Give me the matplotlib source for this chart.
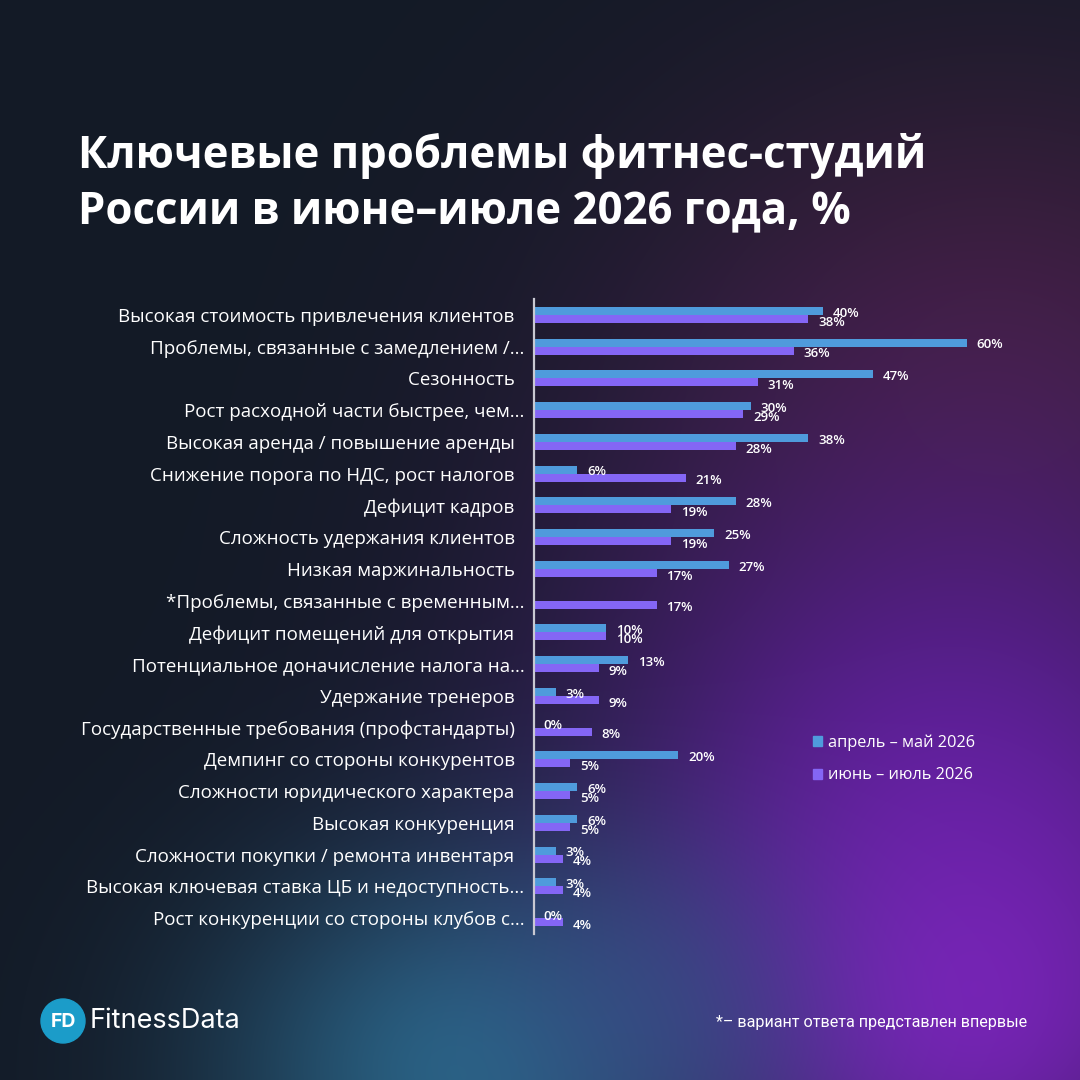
import numpy as np
import matplotlib
matplotlib.use("Agg")
import matplotlib.pyplot as plt
from matplotlib.patches import Patch, Circle

categories = [
    "Высокая стоимость привлечения клиентов",
    "Проблемы, связанные с замедлением /...",
    "Сезонность",
    "Рост расходной части быстрее, чем...",
    "Высокая аренда / повышение аренды",
    "Снижение порога по НДС, рост налогов",
    "Дефицит кадров",
    "Сложность удержания клиентов",
    "Низкая маржинальность",
    "*Проблемы, связанные с временным...",
    "Дефицит помещений для открытия",
    "Потенциальное доначисление налога на...",
    "Удержание тренеров",
    "Государственные требования (профстандарты)",
    "Демпинг со стороны конкурентов",
    "Сложности юридического характера",
    "Высокая конкуренция",
    "Сложности покупки / ремонта инвентаря",
    "Высокая ключевая ставка ЦБ и недоступность...",
    "Рост конкуренции со стороны клубов с...",
]
apr_may = [40, 60, 47, 30, 38, 6, 28, 25, 27, np.nan, 10, 13, 3, 0, 20, 6, 6, 3, 3, 0]
jun_jul = [38, 36, 31, 29, 28, 21, 19, 19, 17, 17, 10, 9, 9, 8, 5, 5, 5, 4, 4, 4]
series_names = ["апрель – май 2026", "июнь – июль 2026"]
title = "Ключевые проблемы фитнес-студий\nРоссии в июне–июле 2026 года, %"
footnote = "*– вариант ответа представлен впервые"

BLUE = "#4f9bdc"
PURPLE = "#8466f5"
FONT = ["Open Sans", "DejaVu Sans"]
plt.rcParams["font.family"] = FONT

W = H = 1080
fig = plt.figure(figsize=(10.8, 10.8), dpi=100)

# background gradient
yy, xx = np.mgrid[0:H, 0:W].astype(float)
def hexrgb(h):
    h = h.lstrip("#")
    return np.array([int(h[i:i+2], 16) / 255 for i in (0, 2, 4)])
img = np.ones((H, W, 3)) * hexrgb("#131a26")
def blob(cx, cy, sx, sy, col, a):
    global img
    w = a * np.exp(-(((xx - cx) / sx) ** 2 + ((yy - cy) / sy) ** 2) / 2)
    img = img * (1 - w[..., None]) + hexrgb(col) * w[..., None]
blob(1000, 380, 260, 230, "#44203e", 0.9)
blob(950, 800, 260, 260, "#5c1f98", 0.95)
blob(960, 1000, 180, 160, "#7c24bc", 0.9)
blob(470, 1070, 180, 150, "#2a6688", 0.95)
blob(640, 1000, 110, 110, "#3a4f8c", 0.5)
bg = fig.add_axes([0, 0, 1, 1])
bg.imshow(img, extent=[0, W, H, 0], aspect="auto", zorder=0)
bg.set_xlim(0, W); bg.set_ylim(H, 0)
bg.axis("off")

# main axes
left, right, top, bottom = 534, 967, 299, 934
ax = fig.add_axes([left / W, 1 - bottom / H, (right - left) / W, (bottom - top) / H])
ax.patch.set_alpha(0)
n = len(categories)
y = np.arange(n)
bh = 0.25
ax.barh(y - bh / 2, apr_may, height=bh, color=BLUE, zorder=2)
ax.barh(y + bh / 2, jun_jul, height=bh, color=PURPLE, zorder=2)
ax.set_xlim(0, 60)
ax.set_ylim(n - 0.5, -0.5)
for i in range(n):
    if not np.isnan(apr_may[i]):
        ax.annotate(f"{int(apr_may[i])}%", (apr_may[i], y[i] - bh / 2 + 0.07), xytext=(7, 0),
                    textcoords="offset points", ha="left", va="center", color="white",
                    fontsize=9.5, fontweight="semibold", annotation_clip=False, zorder=3)
    ax.annotate(f"{int(jun_jul[i])}%", (jun_jul[i], y[i] + bh / 2 + 0.1), xytext=(7, 0),
                textcoords="offset points", ha="left", va="center", color="white",
                fontsize=9.5, fontweight="semibold", annotation_clip=False, zorder=3)

ax.set_yticks(y)
labels = [c if c.endswith("...") else c + "  " for c in categories]
ax.set_yticklabels(labels, fontsize=13.5, color="white")
ax.tick_params(axis="y", length=0, pad=7)
ax.set_xticks([])
for s in ["top", "right", "bottom"]:
    ax.spines[s].set_visible(False)
ax.spines["left"].set_color("#c9c9d2")
ax.spines["left"].set_linewidth(1.6)

# legend
handles = [Patch(color=BLUE), Patch(color=PURPLE)]
fig.legend(handles, series_names, loc="center left", bbox_to_anchor=(813 / W, 1 - 759 / H),
           frameon=False, fontsize=11.8, labelcolor="white", handlelength=0.55, handleheight=0.55,
           handletextpad=0.35, labelspacing=1.0, borderaxespad=0, borderpad=0)

# title
fig.text(78 / W, 1 - 133 / H, title, fontsize=31.5, fontweight="bold", color="white",
         ha="left", va="top", linespacing=1.32)

# footer
bg.add_patch(Circle((63, 1021), 22, color="#1b9cc9", zorder=2))
bg.text(63, 1022, "FD", color="white", fontsize=14, fontweight="bold", ha="center", va="center",
        zorder=3, family=["Inter", "DejaVu Sans"])
bg.text(90, 1021, "FitnessData", color="white", fontsize=19.5, ha="left", va="center",
        zorder=3, family=["Inter", "DejaVu Sans"])
bg.text(1027, 1022, footnote, color="white", fontsize=11.6, ha="right", va="center",
        zorder=3, family=["Liberation Sans Narrow", "Roboto", "DejaVu Sans"])

fig.savefig("out.png", dpi=100)
